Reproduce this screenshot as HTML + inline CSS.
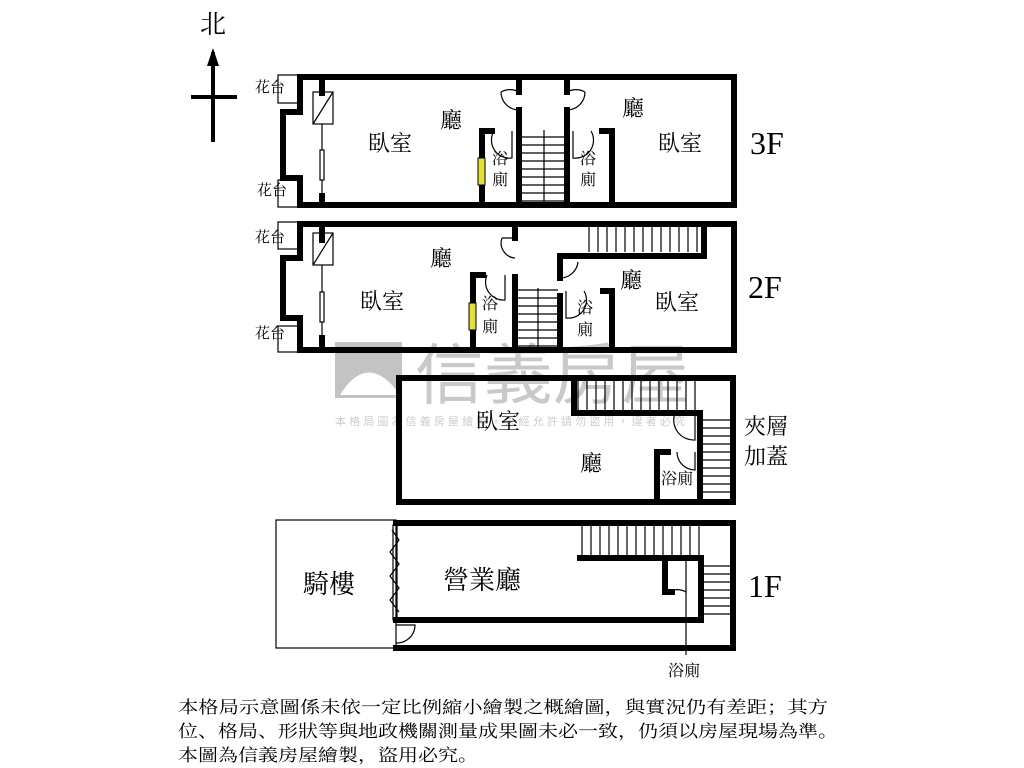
<!DOCTYPE html>
<html><head><meta charset="utf-8"><style>
html,body{margin:0;padding:0;background:#fff;}
svg{display:block;}
text{font-family:"Liberation Serif","Noto Serif CJK SC","Noto Sans CJK TC",serif;fill:#000;}
</style></head><body>
<svg width="1024" height="768" viewBox="0 0 1024 768" xmlns="http://www.w3.org/2000/svg">
<!-- watermark -->
<g opacity="0.9">
<path d="M335 342 L402 342 L402 398 L335 398 Z" fill="#bdbdbd"/>
<path d="M340 395 Q368 350 400 395" fill="#fff"/>
<text x="415" y="398" font-size="66" style="fill:#c4c4c4;font-family:'Noto Sans CJK TC',sans-serif" textLength="275" lengthAdjust="spacingAndGlyphs">信義房屋</text>
<text x="335" y="425" font-size="11" style="fill:#c8c8c8;font-family:'Noto Sans CJK TC',sans-serif" textLength="350" lengthAdjust="spacing">本格局圖為信義房屋繪製，未經允許請勿盜用，違者必究</text>
</g>

<!-- North arrow -->
<text x="200" y="33" font-size="26">北</text>
<line x1="213" y1="52" x2="213" y2="142" stroke="#000" stroke-width="4"/>
<path d="M213 48 L207 66 L219 66 Z" fill="#000"/>
<line x1="191" y1="97" x2="237" y2="97" stroke="#000" stroke-width="4"/>

<g fill="none" stroke="#000" stroke-width="6" stroke-linecap="square">
<!-- 3F -->
<path d="M300 77 H734 V205 H300"/>
<path d="M300 77 V112 H283 V178 H300 V205"/>
<path d="M322 77 V93 M322 196 V205"/>
<path d="M519 77 V92 M519 110 V205 M567 77 V92 M567 110 V205"/>
<path d="M482 205 V131 H492 M612 205 V131 H602"/>
<!-- 2F -->
<path d="M300 224 H734 V350 H300"/>
<path d="M300 224 V258 H283 V318 H300 V350"/>
<path d="M322 224 V240 M322 338 V350"/>
<path d="M515 224 V238 M515 277 V350"/>
<path d="M473 350 V275 H483"/>
<path d="M560 350 V296 M560 278 V258 M560 256 H704 V224"/>
<path d="M612 350 V291 H603"/>
<!-- mezz -->
<path d="M399 378 H733 V502 H399 Z"/>
<path d="M574 378 V413 H700 M700 413 V502"/>
<path d="M657 502 V452 H668"/>
<!-- 1F -->
<path d="M396 523 H733 V648 H396"/>
<path d="M396 620 H701 V558 H580"/>
<path d="M665 558 V592 H672"/>
</g>
<!-- thin box outlines 花台 and others -->
<g fill="none" stroke="#000" stroke-width="1.2">
<rect x="278" y="75" width="22" height="28"/><rect x="278" y="180" width="22" height="27"/>
<rect x="278" y="222" width="22" height="27"/><rect x="278" y="326" width="22" height="26"/>
<rect x="313" y="92" width="20" height="32"/><line x1="313" y1="124" x2="333" y2="92"/>
<rect x="313" y="233" width="20" height="32"/><line x1="313" y1="265" x2="333" y2="233"/>
<line x1="322" y1="124" x2="322" y2="196"/><line x1="322" y1="265" x2="322" y2="338"/>
<rect x="320" y="150" width="4" height="30" fill="#fff"/><rect x="320" y="292" width="4" height="30" fill="#fff"/>
<!-- door arcs 3F -->
<path d="M519 92 A18 18 0 0 0 501 92 M519 110 A18 18 0 0 1 501 92"/>
<path d="M567 92 A18 18 0 0 1 585 92 M567 110 A18 18 0 0 0 585 92"/>
<path d="M512 131 V158 A18 18 0 0 1 494 131"/>
<path d="M573 131 V158 A18 18 0 0 0 591 131"/>
<path d="M502 238 A15 15 0 0 0 515 258 M515 238 H502"/>
<path d="M505 275 V300 A18 18 0 0 1 487 275"/>
<path d="M560 258 A18 18 0 0 1 578 258 M560 278 A18 18 0 0 0 578 262"/>
<path d="M566 291 V318 A18 18 0 0 0 584 291"/>
<path d="M695 413 V440 A20 20 0 0 1 675 413"/>
<path d="M695 452 V470 A18 18 0 0 1 677 452"/>
<path d="M686 558 V592 A18 18 0 0 0 668 592"/>
<line x1="686" y1="590" x2="686" y2="655"/>
<!-- stairs -->
<path d="M522 137H565M522 145H565M522 153H565M522 161H565M522 169H565M522 177H565M522 185H565M522 193H565M522 201H565M544 130V205"/>
<path d="M518 290H558M518 298H558M518 306H558M518 314H558M518 322H558M518 330H558M518 338H558M518 346H558M538 288V350"/>
<path d="M589 224V252M598 224V252M607 224V252M616 224V252M625 224V252M634 224V252M643 224V252M652 224V252M661 224V252M670 224V252M679 224V252M688 224V252M697 224V252"/>
<path d="M578 380V410M587 380V410M596 380V410M605 380V410M614 380V410M623 380V410M632 380V410M641 380V410M650 380V410M659 380V410M668 380V410M677 380V410M686 380V410M695 380V410"/>
<path d="M703 420H731M703 428H731M703 436H731M703 444H731M703 452H731M703 460H731M703 468H731M703 476H731M703 484H731M703 492H731"/>
<path d="M582 526V556M591 526V556M600 526V556M609 526V556M618 526V556M627 526V556M636 526V556M645 526V556M654 526V556M663 526V556M672 526V556M681 526V556M690 526V556M699 526V556"/>
<path d="M703 566H731M703 574H731M703 582H731M703 590H731M703 598H731M703 606H731M703 614H731"/>
<!-- 1F arcade -->
<rect x="276" y="520" width="120" height="128"/>
<path d="M392 530 L399 540 L390 552 L399 564 L390 576 L399 588 L390 600 L399 612"/>
<rect x="393" y="525" width="4" height="95"/>
<path d="M396 625 H415 A18 18 0 0 1 396 643"/>
</g>
<!-- yellow -->
<rect x="478" y="158" width="7" height="27" fill="#e6df3a" stroke="#000" stroke-width="1"/>
<rect x="469" y="303" width="7" height="27" fill="#e6df3a" stroke="#000" stroke-width="1"/>

<!-- labels -->
<g font-size="15">
<text x="255" y="92">花台</text><text x="257" y="195">花台</text>
<text x="255" y="242">花台</text><text x="255" y="338">花台</text>
</g>
<g font-size="22">
<text x="368" y="151">臥室</text><text x="440" y="128">廳</text>
<text x="622" y="116">廳</text><text x="658" y="151">臥室</text>
<text x="430" y="266">廳</text><text x="360" y="309">臥室</text>
<text x="620" y="288">廳</text><text x="655" y="310">臥室</text>
<text x="476" y="429">臥室</text><text x="580" y="471">廳</text>
</g>
<g font-size="16">
<text x="492" y="164">浴</text><text x="492" y="185">廁</text>
<text x="580" y="164">浴</text><text x="580" y="185">廁</text>
<text x="482" y="309">浴</text><text x="482" y="332">廁</text>
<text x="577" y="313">浴</text><text x="577" y="335">廁</text>
<text x="661" y="484">浴廁</text>
<text x="668" y="676">浴廁</text>
</g>
<g font-size="32"><text x="750" y="154">3F</text><text x="748" y="298">2F</text><text x="748" y="597">1F</text></g>
<g font-size="22"><text x="744" y="434">夾層</text><text x="744" y="464">加蓋</text></g>
<g font-size="26"><text x="303" y="593">騎樓</text><text x="443" y="589">營業廳</text></g>

<g font-size="17">
<text x="178" y="713" textLength="650" lengthAdjust="spacingAndGlyphs">本格局示意圖係未依一定比例縮小繪製之概繪圖，與實況仍有差距；其方</text>
<text x="178" y="737" textLength="660" lengthAdjust="spacingAndGlyphs">位、格局、形狀等與地政機關測量成果圖未必一致，仍須以房屋現場為準。</text>
<text x="178" y="761" textLength="300" lengthAdjust="spacingAndGlyphs">本圖為信義房屋繪製，盜用必究。</text>
</g>
</svg>
</body></html>
